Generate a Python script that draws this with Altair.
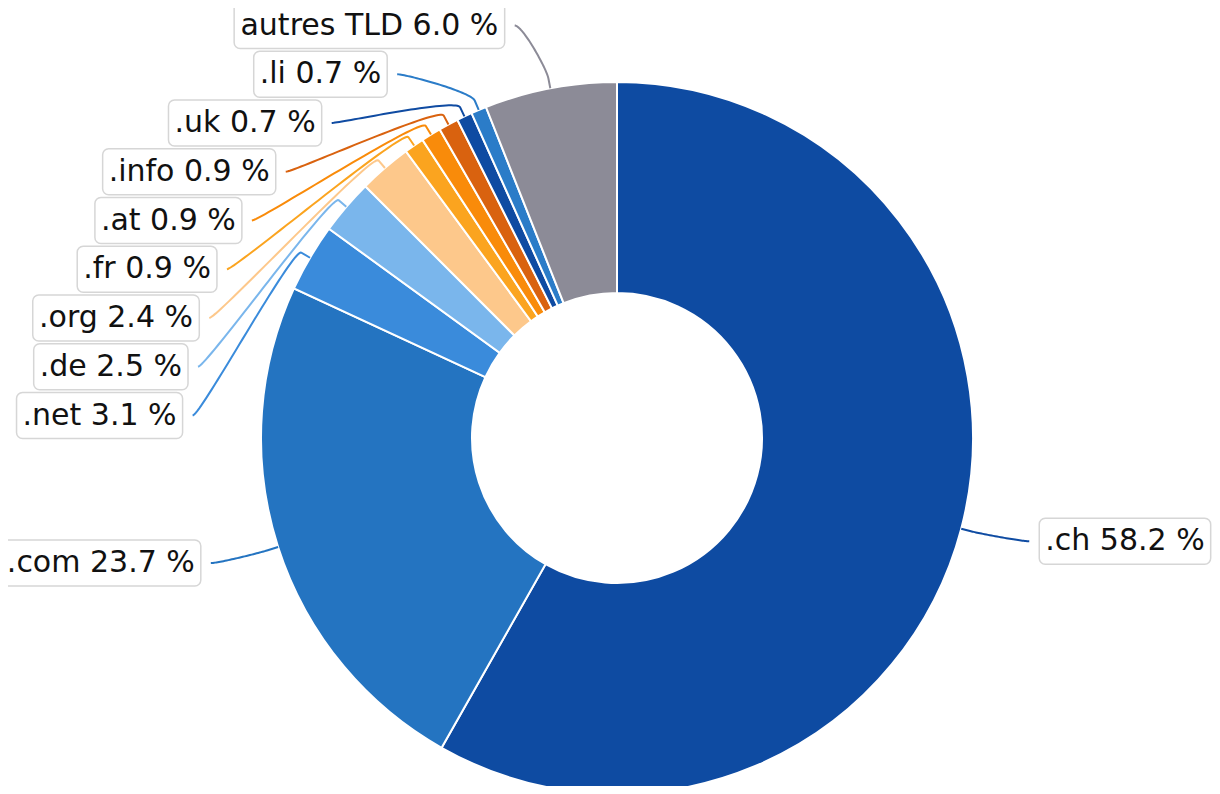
import math
import altair as alt
import pandas as pd

# ---- data ----
names = [".ch", ".com", ".net", ".de", ".org", ".fr", ".at", ".info", ".uk", ".li", "autres TLD"]
shares = [58.2, 23.7, 3.1, 2.5, 2.4, 0.9, 0.9, 0.9, 0.7, 0.7, 6.0]
colors = ["#0e4ba2", "#2474c1", "#3a8bdb", "#7ab6ec", "#fdc88b", "#fba41f",
          "#f98b0a", "#d9620f", "#0f4ba2", "#2b7cc8", "#8c8b97"]

# ---- layout / style constants ----
W, H = 1204, 778
CX, CY = 609, 430
R_OUT, R_IN = 356, 145
LABEL_R = 425
BREAK = 10
CTRL = 8
FONT = 30
PAD = 6
BOX_H = 46
GAP = 48.75
TOP = 17.5
CONN_PAD = 10

# DejaVu Sans advance widths (units per em = 2048)
ADV = {" ": 651, "%": 1946, ".": 651, "a": 1255, "c": 1126, "d": 1300, "e": 1260,
       "f": 721, "g": 1300, "h": 1298, "i": 569, "k": 1186, "l": 569, "m": 1995,
       "n": 1298, "o": 1253, "r": 842, "s": 1067, "t": 803, "u": 1298, "T": 1251,
       "L": 1141, "D": 1577}


def text_width(s):
    return sum(ADV.get(ch, 1303) for ch in s) / 2048 * FONT


def pt(theta, rad):
    return CX + rad * math.sin(theta), CY - rad * math.cos(theta)


# slices geometry
info = []
cum = 0.0
for i, (n, s) in enumerate(zip(names, shares)):
    mid = cum + s / 2
    cum += s
    th = 2 * math.pi * mid / 100
    left = math.sin(th) < 0
    nat_y = CY - LABEL_R * math.cos(th) - 5
    info.append(dict(idx=i, name=n, share=s, theta=th, left=left, nat=nat_y,
                     label=f"{n} {s:.1f} %"))

# distribute labels on each side
for side in (True, False):
    items = sorted([d for d in info if d["left"] == side], key=lambda d: d["nat"])
    prev = TOP - GAP
    for d in items:
        y = max(d["nat"], prev + GAP)
        d["ly"] = y
        prev = y

label_rows, line_rows = [], []
for d in info:
    ay = d["ly"]
    dx = math.sqrt(max(LABEL_R ** 2 - (ay - CY) ** 2, 0))
    ax = CX - dx if d["left"] else CX + dx
    w = text_width(d["label"]) + 2 * PAD
    if d["left"]:
        x2 = ax - CONN_PAD
        x1 = x2 - w
    else:
        x1 = ax + CONN_PAD
        x2 = x1 + w
    label_rows.append(dict(name=d["name"], label=d["label"], x1=x1, x2=x2,
                           xc=(x1 + x2) / 2, y1=ay - BOX_H / 2, y2=ay + BOX_H / 2, yc=ay))
    # connector: cubic bezier from anchor to break point, then to slice edge
    tx, ty = pt(d["theta"], R_OUT)
    bx, by = pt(d["theta"], R_OUT + BREAK)
    p0 = (ax, ay)
    p1 = (ax + (CTRL if d["left"] else -CTRL), ay)
    p2 = (2 * bx - tx, 2 * by - ty)
    p3 = (bx, by)
    k = 0
    N = 40
    for j in range(N + 1):
        t = j / N
        u = 1 - t
        x = u ** 3 * p0[0] + 3 * u * u * t * p1[0] + 3 * u * t * t * p2[0] + t ** 3 * p3[0]
        y = u ** 3 * p0[1] + 3 * u * u * t * p1[1] + 3 * u * t * t * p2[1] + t ** 3 * p3[1]
        line_rows.append(dict(name=d["name"], k=k, x=x, y=y))
        k += 1
    line_rows.append(dict(name=d["name"], k=k, x=tx, y=ty))

slices = pd.DataFrame({"idx": list(range(len(names))), "name": names, "share": shares})
labels = pd.DataFrame(label_rows)
lines = pd.DataFrame(line_rows)

color = alt.Color("name:N", scale=alt.Scale(domain=names, range=colors), legend=None)
xs = alt.Scale(domain=[0, W], nice=False, zero=False)
ys = alt.Scale(domain=[0, H], nice=False, zero=False, reverse=True)

arcs = alt.Chart(slices).mark_arc(innerRadius=R_IN, outerRadius=R_OUT, stroke="white",
                                  strokeWidth=2).encode(
    theta=alt.Theta("share:Q", stack=True),
    order=alt.Order("idx:Q"),
    color=color,
    x=alt.value(CX),
    y=alt.value(CY),
)

conn = alt.Chart(lines).mark_line(strokeWidth=2).encode(
    x=alt.X("x:Q", scale=xs, axis=None),
    y=alt.Y("y:Q", scale=ys, axis=None),
    detail="name:N",
    order="k:Q",
    color=color,
)

boxes = alt.Chart(labels).mark_rect(fill="white", stroke="#d6d6d6", strokeWidth=1.5,
                                    cornerRadius=6).encode(
    x=alt.X("x1:Q", scale=xs, axis=None), x2="x2:Q",
    y=alt.Y("y1:Q", scale=ys, axis=None), y2="y2:Q",
)

texts = alt.Chart(labels).mark_text(font="DejaVu Sans", fontSize=FONT, color="#111111",
                                    align="center", baseline="middle").encode(
    x=alt.X("xc:Q", scale=xs, axis=None),
    y=alt.Y("yc:Q", scale=ys, axis=None),
    text="label:N",
)

chart = alt.layer(arcs, conn, boxes, texts).properties(
    width=W, height=H, padding=0, autosize=alt.AutoSizeParams(type="none")
).configure_view(strokeWidth=0)

chart.save("out.html", embed_options={"renderer": "svg", "actions": False})
